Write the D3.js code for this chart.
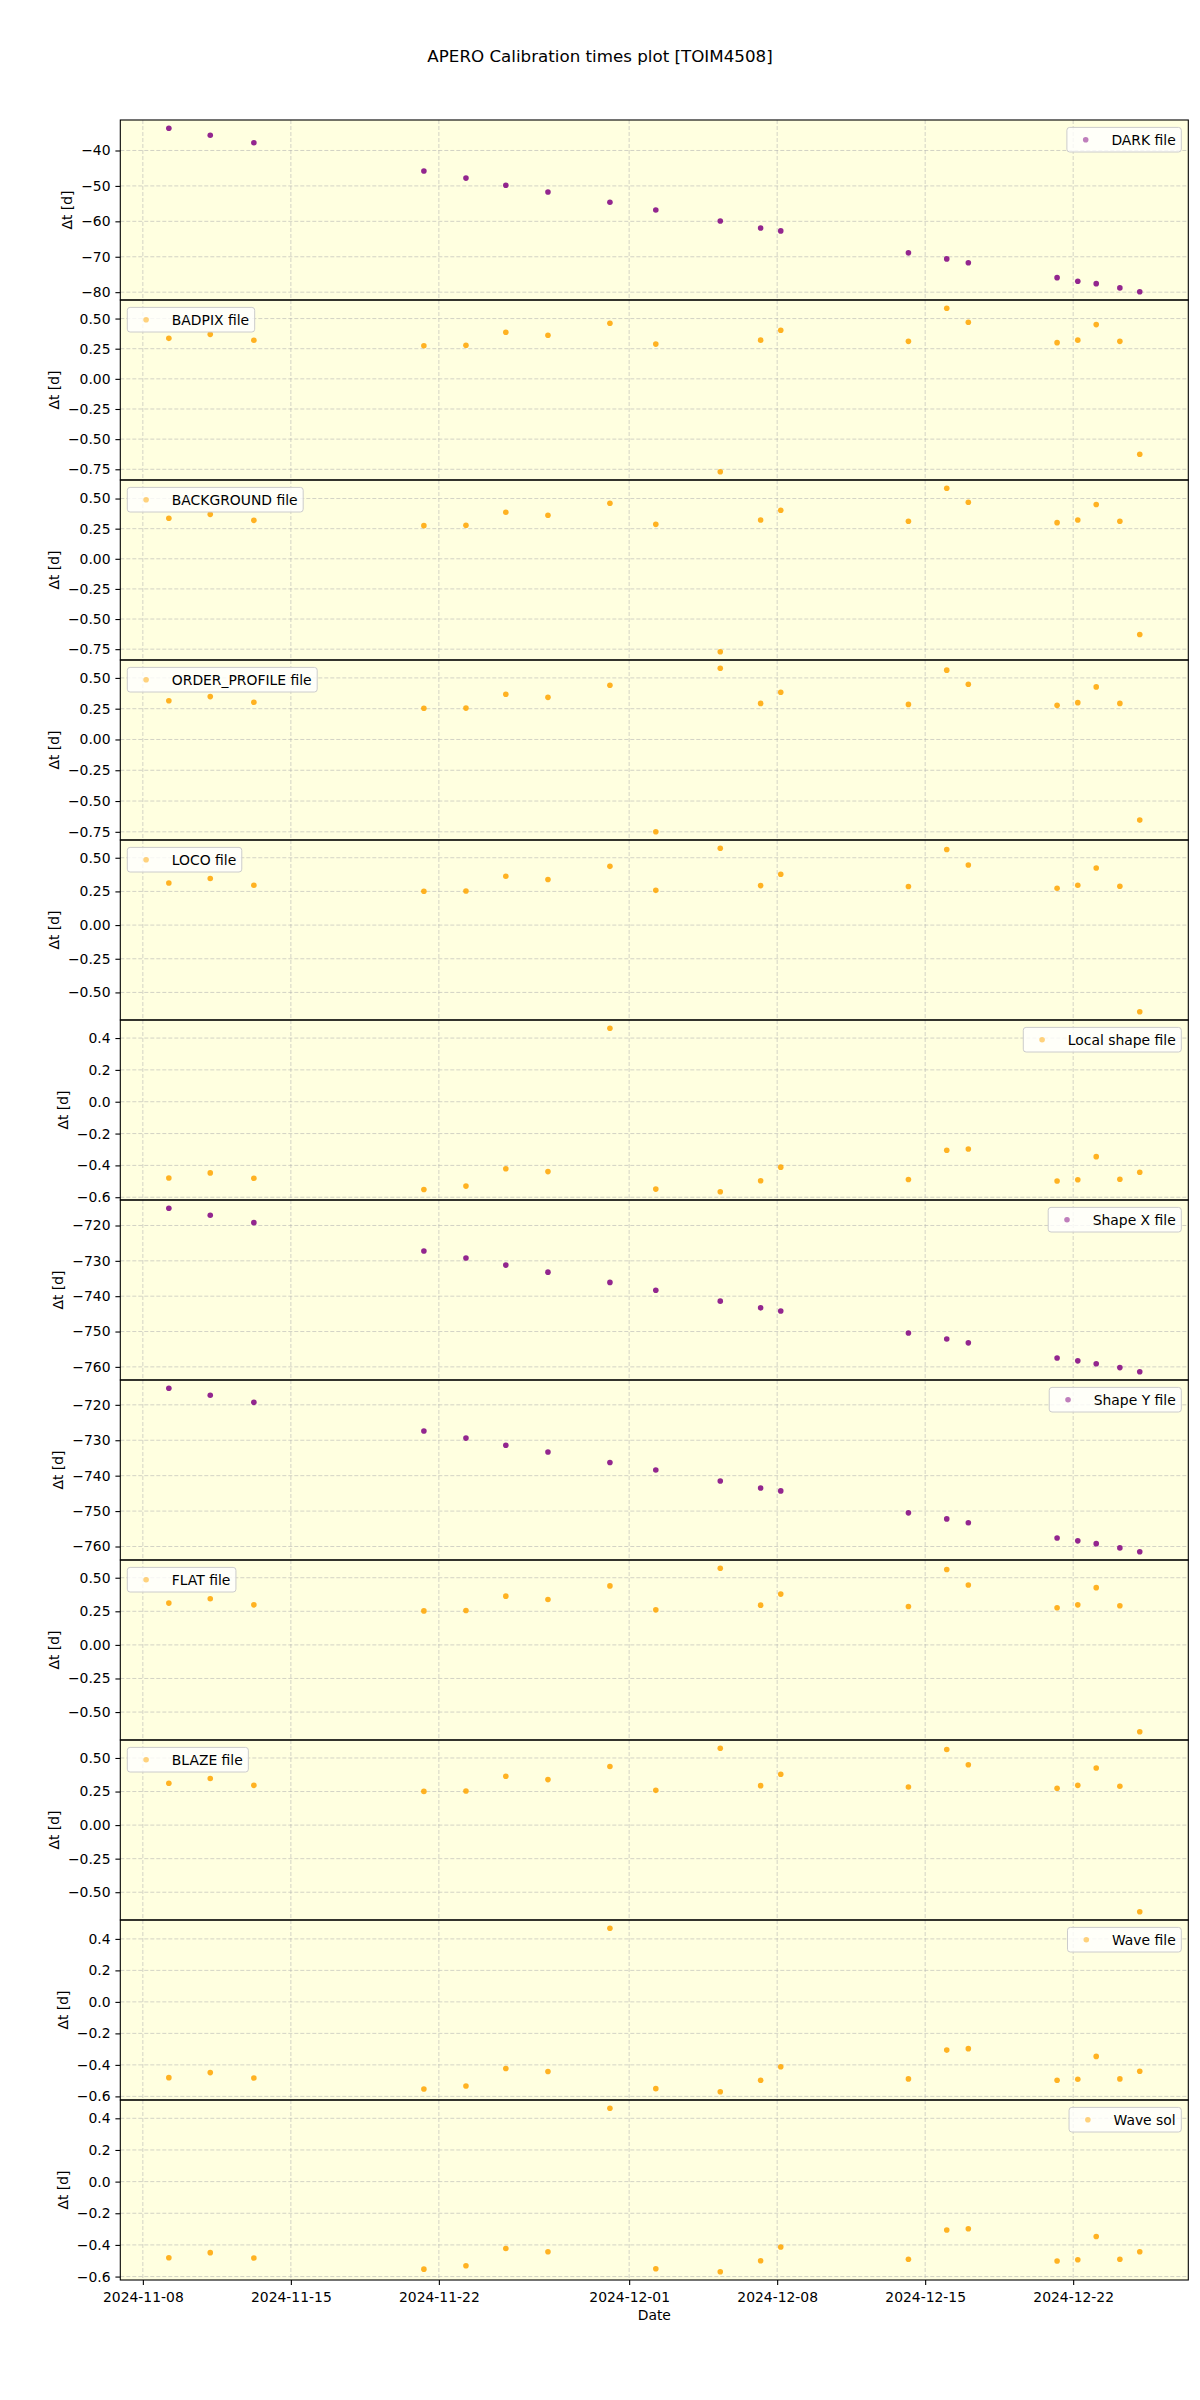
<!DOCTYPE html>
<html><head><meta charset="utf-8">
<script src="https://cdn.jsdelivr.net/npm/d3@7"></script>
<style>
body{margin:0;background:#fff}
svg{display:block}
text{font-family:"DejaVu Sans",sans-serif}
</style>
</head><body>
<svg id="chart" width="1200" height="2400"></svg>
<script>
// ---------- data ----------
const obsDates = ["2024-11-09T05:30","2024-11-11T04:30","2024-11-13T06:00","2024-11-21T07:00","2024-11-23T06:45",
  "2024-11-25T04:00","2024-11-27T03:50","2024-11-30T02:10","2024-12-02T06:15","2024-12-05T07:25",
  "2024-12-07T05:15","2024-12-08T04:05","2024-12-14T05:00","2024-12-16T00:30","2024-12-17T01:00",
  "2024-12-21T05:45","2024-12-22T05:15","2024-12-23T02:10","2024-12-24T05:00","2024-12-25T03:35"];

const darkFile = [-33.7,-35.7,-37.8,-45.8,-47.8,-49.8,-51.7,-54.6,-56.8,-59.9,-61.9,-62.7,-68.9,-70.6,-71.7,-75.9,-76.9,-77.6,-78.8,-79.9];
const badpixFile = [0.336,0.369,0.320,0.275,0.278,0.386,0.362,0.461,0.288,-0.771,0.321,0.403,0.311,0.586,0.469,0.300,0.321,0.450,0.311,-0.625];
const backgroundFile = [0.336,0.369,0.319,0.275,0.278,0.386,0.361,0.461,0.286,-0.772,0.322,0.403,0.311,0.586,0.469,0.300,0.322,0.450,0.311,-0.628];
const orderProfileFile = [0.315,0.348,0.302,0.253,0.255,0.367,0.342,0.440,-0.750,0.579,0.293,0.383,0.285,0.563,0.448,0.277,0.299,0.427,0.293,-0.655];
const locoFile = [0.313,0.346,0.296,0.251,0.253,0.363,0.338,0.436,0.258,0.571,0.293,0.378,0.286,0.561,0.446,0.273,0.296,0.424,0.288,-0.644];
const localShapeFile = [-0.479,-0.447,-0.481,-0.551,-0.530,-0.421,-0.439,0.462,-0.549,-0.566,-0.496,-0.411,-0.489,-0.305,-0.297,-0.498,-0.490,-0.345,-0.487,-0.443];
const shapeXFile = [-715.1,-717.1,-719.2,-727.2,-729.2,-731.2,-733.2,-736.1,-738.3,-741.4,-743.3,-744.2,-750.4,-752.1,-753.2,-757.5,-758.3,-759.1,-760.2,-761.4];
const shapeYFile = [-715.3,-717.3,-719.3,-727.4,-729.4,-731.4,-733.3,-736.3,-738.4,-741.5,-743.5,-744.3,-750.5,-752.2,-753.3,-757.6,-758.4,-759.2,-760.4,-761.5];
const flatFile = [0.311,0.343,0.298,0.253,0.256,0.363,0.338,0.439,0.261,0.571,0.296,0.378,0.286,0.561,0.446,0.276,0.298,0.426,0.291,-0.647];
const blazeFile = [0.312,0.347,0.296,0.251,0.254,0.364,0.339,0.437,0.259,0.573,0.294,0.379,0.284,0.563,0.450,0.274,0.296,0.425,0.289,-0.646];
const waveFile = [-0.481,-0.449,-0.483,-0.553,-0.534,-0.423,-0.442,0.468,-0.551,-0.571,-0.498,-0.412,-0.489,-0.306,-0.297,-0.498,-0.491,-0.346,-0.489,-0.440];
const waveSol = [-0.481,-0.449,-0.483,-0.553,-0.532,-0.423,-0.443,0.464,-0.551,-0.570,-0.500,-0.413,-0.491,-0.306,-0.298,-0.502,-0.494,-0.347,-0.491,-0.443];

const seriesLabels = ["DARK file","BADPIX file","BACKGROUND file","ORDER_PROFILE file","LOCO file","Local shape file",
  "Shape X file","Shape Y file","FLAT file","BLAZE file","Wave file","Wave sol"];
const seriesColors = ["purple","orange","orange","orange","orange","orange","purple","purple","orange","orange","orange","orange"];
const legendSides = ["right","left","left","left","left","right","right","right","left","left","right","right"];

const xTickLabels = ["2024-11-08","2024-11-15","2024-11-22","2024-12-01","2024-12-08","2024-12-15","2024-12-22"];
const darkTicks = [-80,-70,-60,-50,-40];
const wideQuarterTicks = [-0.75,-0.5,-0.25,0,0.25,0.5];
const quarterTicks = [-0.5,-0.25,0,0.25,0.5];
const tenthTicks = [-0.6,-0.4,-0.2,0,0.2,0.4];
const shapeTicks = [-760,-750,-740,-730,-720];

const titleText = "APERO Calibration times plot [TOIM4508]";
const xLabelText = "Date";
const yLabelText = "Δt [d]";

// ---------- table built from the arrays ----------
const seriesValues = [darkFile,badpixFile,backgroundFile,orderProfileFile,locoFile,localShapeFile,
  shapeXFile,shapeYFile,flatFile,blazeFile,waveFile,waveSol];
const seriesTicks = [darkTicks,wideQuarterTicks,wideQuarterTicks,wideQuarterTicks,quarterTicks,tenthTicks,
  shapeTicks,shapeTicks,quarterTicks,quarterTicks,tenthTicks,tenthTicks];
const seriesFormats = ["d",".2f",".2f",".2f",".2f",".1f","d","d",".2f",".2f",".1f",".1f"];

// ---------- layout ----------
const FS = 13.9;
const plotLeft = 120.3, plotRight = 1188.3, plotTop = 120, ph = 180;
const bgColor = "#FFFFE0";
const svg = d3.select("#chart");

const parseT = d3.utcParse("%Y-%m-%dT%H:%M");
const parseD = d3.utcParse("%Y-%m-%d");
const dates = obsDates.map(parseT);
const xTicks = xTickLabels.map(parseD);
const ext = d3.extent(dates);
const xpad = (ext[1] - ext[0]) * 0.05;
const x = d3.scaleUtc().domain([new Date(+ext[0] - xpad), new Date(+ext[1] + xpad)]).range([plotLeft, plotRight]);

const minus = s => s.replace(/-/g, "\u2212");

svg.append("text").attr("x", 600).attr("y", 62).attr("text-anchor", "middle")
  .attr("font-size", 16.7).attr("fill", "#000").text(titleText);

const spines = [];
seriesValues.forEach((vals, i) => {
  const y0 = plotTop + i * ph;
  const e = d3.extent(vals);
  const yp = (e[1] - e[0]) * 0.05;
  const y = d3.scaleLinear().domain([e[0] - yp, e[1] + yp]).range([y0 + ph, y0]);
  const g = svg.append("g");

  g.append("rect").attr("x", plotLeft).attr("y", y0).attr("width", plotRight - plotLeft).attr("height", ph).attr("fill", bgColor);

  // grid
  const grid = g.append("g").attr("stroke", "#b0b0b0").attr("stroke-opacity", 0.7)
    .attr("stroke-width", 0.8).attr("stroke-dasharray", "4,2");
  grid.selectAll(".vg").data(xTicks).join("line")
    .attr("x1", d => x(d)).attr("x2", d => x(d)).attr("y1", y0).attr("y2", y0 + ph);
  grid.selectAll(".hg").data(seriesTicks[i]).join("line")
    .attr("x1", plotLeft).attr("x2", plotRight).attr("y1", d => y(d)).attr("y2", d => y(d));

  // points
  g.append("g").selectAll("circle").data(vals).join("circle")
    .attr("cx", (d, j) => x(dates[j])).attr("cy", d => y(d)).attr("r", 2.8)
    .attr("fill", seriesColors[i]).attr("fill-opacity", 0.85);

  // y axis
  const fmt = d3.format(seriesFormats[i]);
  const ax = g.append("g").attr("transform", `translate(${plotLeft},0)`)
    .call(d3.axisLeft(y).tickValues(seriesTicks[i]).tickSize(4.9).tickPadding(4.9).tickFormat(d => minus(fmt(d))));
  ax.select(".domain").remove();
  ax.selectAll("line").attr("stroke", "#000").attr("stroke-width", 1.1);
  ax.selectAll("text").attr("font-size", FS).attr("fill", "#000").attr("font-family", "DejaVu Sans");
  let maxW = 0;
  ax.selectAll("text").each(function () { maxW = Math.max(maxW, this.getBBox().width); });

  // y label
  const lx = plotLeft - 9.8 - maxW - 5.6 - 3.3;
  g.append("text").attr("transform", `translate(${lx},${y0 + ph / 2}) rotate(-90)`)
    .attr("text-anchor", "middle").attr("font-size", FS).attr("fill", "#000").text(yLabelText);

  // legend
  const lg = g.append("g");
  const lt = lg.append("text").attr("font-size", FS).attr("fill", "#000").text(seriesLabels[i]);
  const tw = lt.node().getComputedTextLength();
  const bw = 5.6 + 27.8 + 11.1 + tw + 5.6, bh = 24.6;
  const bx = legendSides[i] === "right" ? plotRight - 7 - bw : plotLeft + 7;
  const by = y0 + 7.4;
  lg.insert("rect", "text").attr("x", bx).attr("y", by).attr("width", bw).attr("height", bh)
    .attr("rx", 2.8).attr("fill", "#fff").attr("fill-opacity", 0.8).attr("stroke", "#cccccc").attr("stroke-width", 1);
  lg.append("circle").attr("cx", bx + 18.8).attr("cy", by + bh / 2).attr("r", 2.8)
    .attr("fill", seriesColors[i]).attr("fill-opacity", 0.5);
  lt.attr("x", bx + 5.6 + 27.8 + 11.1).attr("y", by + bh / 2 + 5);

  spines.push(y0);
});

// spines
svg.append("g").selectAll("rect").data(spines).join("rect")
  .attr("x", plotLeft).attr("y", d => d).attr("width", plotRight - plotLeft).attr("height", ph)
  .attr("fill", "none").attr("stroke", "#000").attr("stroke-width", 1.1);

// bottom x axis
const plotBottom = plotTop + ph * seriesValues.length;
const xa = svg.append("g").attr("transform", `translate(0,${plotBottom})`)
  .call(d3.axisBottom(x).tickValues(xTicks).tickSize(4.9).tickPadding(4.9).tickFormat(d3.utcFormat("%Y-%m-%d")));
xa.select(".domain").remove();
xa.selectAll("line").attr("stroke", "#000").attr("stroke-width", 1.1);
xa.selectAll("text").attr("font-size", FS).attr("fill", "#000").attr("font-family", "DejaVu Sans").attr("dy", "0.85em");

svg.append("text").attr("x", (plotLeft + plotRight) / 2).attr("y", plotBottom + 40).attr("text-anchor", "middle")
  .attr("font-size", FS).attr("fill", "#000").text(xLabelText);
</script>
</body></html>
